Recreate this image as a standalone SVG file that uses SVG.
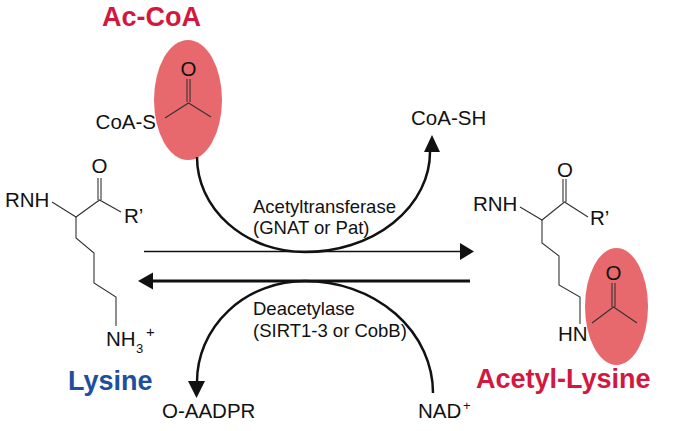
<svg xmlns="http://www.w3.org/2000/svg" width="684" height="431" viewBox="0 0 684 431">
<style>
text{font-family:"Liberation Sans",Arial,sans-serif;fill:#111}
.chem{font-size:20.5px}
.enz{font-size:18.5px}
.title{font-size:27px;font-weight:bold}
.red{fill:#d3183f}
.blue{fill:#1e4f9e}
.bond{fill:none;stroke:#333;stroke-width:1.1;stroke-linejoin:miter}
.hl{fill:#e8696d}
.arc{fill:none;stroke:#111;stroke-width:2.5}
.head{fill:#111}
</style>
<rect width="684" height="431" fill="#fff"/>
<g id="accoa">
<ellipse class="hl" cx="188" cy="100" rx="34" ry="60"/>
<text class="chem" x="188.5" y="76" text-anchor="middle">O</text>
<line class="bond" x1="187" y1="79" x2="187" y2="102"/>
<line class="bond" x1="190" y1="79" x2="190" y2="102"/>
<polyline class="bond" points="165,118 188.5,103 211,117"/>
<text class="chem" x="156" y="129" text-anchor="end">CoA-S</text>
<text class="title red" x="151.5" y="26" text-anchor="middle">Ac-CoA</text>
</g>
<g id="lysine">
<text class="chem" x="99.5" y="173" text-anchor="middle">O</text>
<line class="bond" x1="98" y1="178" x2="98" y2="200"/>
<line class="bond" x1="101" y1="178" x2="101" y2="200"/>
<text class="chem" x="5" y="207">RNH</text>
<polyline class="bond" points="52,202 76,217 99.5,200 121,212"/>
<text class="chem" x="124" y="223">R’</text>
<polyline class="bond" points="76,217 76,238 94,253 94,283 116,297 116,326"/>
<text class="chem" x="106" y="346">NH</text>
<text x="136" y="353" font-size="13">3</text>
<text x="146" y="337" font-size="15">+</text>
<text class="title blue" x="68" y="390">Lysine</text>
</g>
<g id="acetyl-lysine">
<ellipse class="hl" cx="616.5" cy="306.5" rx="31.5" ry="58.5"/>
<text class="chem" x="565" y="177" text-anchor="middle">O</text>
<line class="bond" x1="563" y1="179" x2="563" y2="202"/>
<line class="bond" x1="566" y1="179" x2="566" y2="202"/>
<text class="chem" x="473" y="211">RNH</text>
<polyline class="bond" points="520,207 542,220 564.5,202 588,217"/>
<text class="chem" x="590" y="225">R’</text>
<polyline class="bond" points="542,220 542,243 559,256 559,285 580,297 580,324"/>
<text class="chem" x="558" y="341">HN</text>
<text class="chem" x="613.5" y="280" text-anchor="middle">O</text>
<line class="bond" x1="612" y1="283" x2="612" y2="307"/>
<line class="bond" x1="615" y1="283" x2="615" y2="307"/>
<polyline class="bond" points="592,323 613.5,307 637,323"/>
<text class="title red" x="476" y="388">Acetyl-Lysine</text>
</g>
<g id="coash"><text class="chem" x="411" y="125">CoA-SH</text></g>
<g id="oaadpr"><text class="chem" x="162" y="418">O-AADPR</text></g>
<g id="nad"><text class="chem" x="418" y="418">NAD</text><text x="463" y="410" font-size="13">+</text></g>
<g id="acetyltransferase">
<text class="enz" x="253" y="213">Acetyltransferase</text>
<text class="enz" x="253" y="234">(GNAT or Pat)</text>
</g>
<g id="deacetylase">
<text class="enz" x="253" y="315">Deacetylase</text>
<text class="enz" x="253" y="337">(SIRT1-3 or CobB)</text>
</g>
<g id="connectors">
<line x1="144" y1="251.5" x2="462" y2="251.5" stroke="#111" stroke-width="1.5"/>
<polygon class="head" points="474,251.5 460,243 460,260"/>
<line x1="151" y1="281" x2="470" y2="281" stroke="#111" stroke-width="2.8"/>
<polygon class="head" points="138,281 153,272.5 153,289.5"/>
<path class="arc" d="M197,157 A108,95 0 0 0 305,252 A125,100 0 0 0 430,152"/>
<polygon class="head" points="432,135 424,152 440,152"/>
<path class="arc" d="M433,393 A128,112 0 0 0 305,281 A108,101 0 0 0 197,382"/>
<polygon class="head" points="196.5,398 188,381 205,381"/>
</g>
</svg>
